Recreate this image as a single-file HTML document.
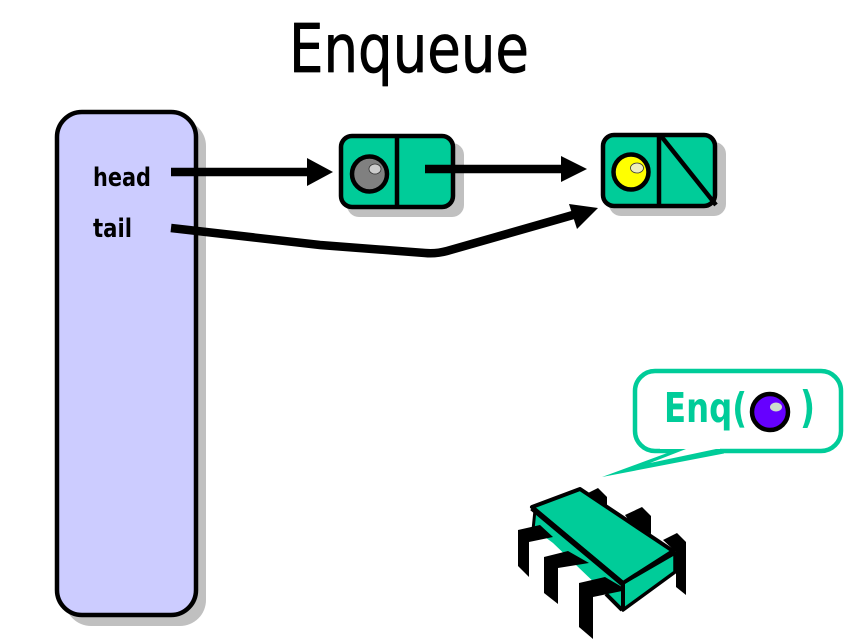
<!DOCTYPE html>
<html><head><meta charset="utf-8"><style>
html,body{margin:0;padding:0;background:#fff;width:864px;height:639px;overflow:hidden}
svg{display:block}
text{font-family:"DejaVu Sans","Liberation Sans",sans-serif}
</style></head><body>
<svg width="864" height="639" viewBox="0 0 864 639" xmlns="http://www.w3.org/2000/svg">
<rect width="864" height="639" fill="#fff"/>
<text x="289" y="72" font-size="67" textLength="240" lengthAdjust="spacingAndGlyphs" fill="#000" stroke="#000" stroke-width="0.8" stroke-linejoin="round">Enqueue</text>

<!-- panel -->
<rect x="65" y="120" width="141" height="506" rx="26" fill="#c0c0c0"/>
<rect x="57" y="112" width="139" height="503" rx="25" fill="#ccccff" stroke="#000" stroke-width="4.5"/>
<text x="93" y="186" font-size="26" font-weight="bold" textLength="58" lengthAdjust="spacingAndGlyphs" fill="#000">head</text>
<text x="93" y="237" font-size="26" font-weight="bold" textLength="39" lengthAdjust="spacingAndGlyphs" fill="#000">tail</text>

<!-- node 1 -->
<rect x="347" y="143" width="117" height="74" rx="12" fill="#c0c0c0"/>
<rect x="341" y="136" width="112" height="71" rx="11" fill="#00cc99" stroke="#000" stroke-width="4.5"/>
<line x1="397" y1="136" x2="397" y2="207" stroke="#000" stroke-width="4.5"/>
<circle cx="369.500" cy="174" r="17.500" fill="#808080" stroke="#000" stroke-width="4.500"/>
<ellipse cx="375" cy="169" rx="6" ry="5" fill="#ccc" stroke="#333" stroke-width="0.8"/>

<!-- node 2 -->
<rect x="609" y="142" width="117" height="74" rx="12" fill="#c0c0c0"/>
<rect x="603" y="135" width="112" height="71" rx="11" fill="#00cc99" stroke="#000" stroke-width="4.5"/>
<line x1="659" y1="135" x2="659" y2="206" stroke="#000" stroke-width="4.5"/>
<line x1="661" y1="136" x2="716" y2="205" stroke="#000" stroke-width="4.5"/>
<circle cx="631" cy="172" r="17.500" fill="#ffff00" stroke="#000" stroke-width="4.500"/>
<ellipse cx="637" cy="168" rx="6.500" ry="5" fill="#eeeebb" stroke="#333" stroke-width="0.8"/>

<!-- arrows -->
<line x1="171" y1="172" x2="312" y2="172" stroke="#000" stroke-width="8.500"/>
<polygon points="333,172 307,158 307,186" fill="#000"/>
<line x1="425" y1="169" x2="565" y2="169" stroke="#000" stroke-width="8.500"/>
<polygon points="587,169 561,156 561,182" fill="#000"/>
<path d="M171,228 L320,245 L425,253 Q436,254 447,251 L580,213" fill="none" stroke="#000" stroke-width="8.500"/>
<polygon points="598,208 569,204 577,229" fill="#000"/>

<!-- bubble -->
<rect x="635" y="371" width="206" height="80" rx="20" fill="#fff" stroke="#00cc99" stroke-width="4.500"/>
<polygon points="602,477 678,449 724,449 724,453.500" fill="#00cc99"/>
<polygon points="650,463 686,449 716,449" fill="#fff"/>
<polygon points="660,449 720,449 720,446 660,446" fill="#fff"/>
<text x="664" y="422" font-size="41" font-weight="bold" textLength="83" lengthAdjust="spacingAndGlyphs" fill="#00cc99">Enq(</text>
<text x="800" y="422" font-size="44" font-weight="bold" textLength="15" lengthAdjust="spacingAndGlyphs" fill="#00cc99">)</text>
<circle cx="770" cy="412" r="18" fill="#6600ff" stroke="#000" stroke-width="4.500"/>
<ellipse cx="776" cy="407" rx="6" ry="4.500" fill="#ccddcc"/>

<!-- bug back legs -->
<polygon points="588,493 598,488 607,497 607,508 590,500" fill="#000"/>
<polygon points="625,515 642,507 651,516 651,534 630,522" fill="#000"/>
<polygon points="663,540 677,533 686,542 686,595 676,587 676,552" fill="#000"/>
<!-- bug body sides -->
<polygon points="535,510 623,583 623,610 553,543 533,528" fill="#00cc99"/>
<line x1="535" y1="510" x2="533" y2="530" stroke="#000" stroke-width="3"/>
<line x1="606" y1="594" x2="622" y2="610" stroke="#000" stroke-width="4"/>
<polygon points="623,583 675,553 675,572 623,610" fill="#00cc99" stroke="#000" stroke-width="3.500" stroke-linejoin="round"/>
<!-- bug front legs -->
<polygon points="518,530 540,525 553,537 529,542 529,577 518,566" fill="#000"/>
<polygon points="544,557 568,551 589,563 558,568 558,604 544,593" fill="#000"/>
<polygon points="579,583 605,577 622,587 622,591 593,597 593,639 579,627" fill="#000"/>
<!-- top face -->
<polygon points="532,507 580,489 673,551 623,583" fill="#00cc99" stroke="#000" stroke-width="4" stroke-linejoin="round"/>
<line x1="532" y1="508" x2="623" y2="584" stroke="#000" stroke-width="5.500"/>
<line x1="623" y1="583" x2="623" y2="610" stroke="#000" stroke-width="4"/>
</svg>
</body></html>
